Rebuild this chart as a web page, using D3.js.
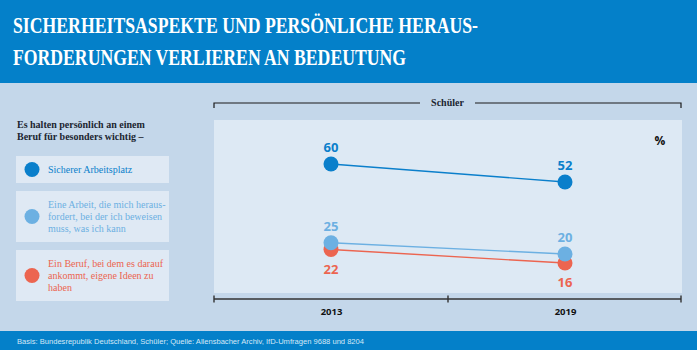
<!DOCTYPE html>
<html>
<head>
<meta charset="utf-8">
<script src="https://cdn.jsdelivr.net/npm/d3@7"></script>
<style>
  body { margin: 0; background: #c4d7ea; }
  svg { display: block; }
</style>
</head>
<body>
<div id="chart"></div>
<script>
const years = ["2013", "2019"];
const seriesNames = ["Sicherer Arbeitsplatz", "Eine Arbeit, die mich heraus-|fordert, bei der ich beweisen|muss, was ich kann", "Ein Beruf, bei dem es darauf|ankommt, eigene Ideen zu|haben"];
const arbeitsplatz = [60, 52];
const herausforderung = [25, 20];
const eigeneIdeen = [22, 16];
const titleLines = ["SICHERHEITSASPEKTE UND PERSÖNLICHE HERAUS-", "FORDERUNGEN VERLIEREN AN BEDEUTUNG"];
const legendHead = ["Es halten persönlich an einem", "Beruf für besonders wichtig –"];
const source = "Basis: Bundesrepublik Deutschland, Schüler; Quelle: Allensbacher Archiv, IfD-Umfragen 9688 und 8204";

const colors = ["#0a7fcb", "#6cb0e2", "#ec6550"];
const series = [
  { name: seriesNames[0], values: arbeitsplatz, color: colors[0], labelPos: ["above", "above"] },
  { name: seriesNames[1], values: herausforderung, color: colors[1], labelPos: ["above", "above"] },
  { name: seriesNames[2], values: eigeneIdeen, color: colors[2], labelPos: ["below", "below"] }
];

const W = 697, H = 350;
const svg = d3.select("#chart").append("svg").attr("width", W).attr("height", H);

// background + bands
svg.append("rect").attr("width", W).attr("height", H).attr("fill", "#c4d7ea");
svg.append("rect").attr("width", W).attr("height", 83).attr("fill", "#0480c9");
svg.append("rect").attr("y", 331).attr("width", W).attr("height", 19).attr("fill", "#0480c9");

// title, serif squeezed to the reference width
svg.selectAll(".title").data(titleLines).enter().append("text")
  .attr("x", 13).attr("y", (d, i) => 33 + i * 32)
  .attr("fill", "#fff").attr("font-family", "'Liberation Serif', serif").attr("font-weight", "bold")
  .attr("font-size", 23)
  .attr("textLength", (d, i) => i === 0 ? 465 : 393).attr("lengthAdjust", "spacingAndGlyphs")
  .text(d => d);

svg.append("text").attr("x", 17).attr("y", 343.5)
  .attr("fill", "#d5e8f7").attr("font-family", "'Liberation Sans', sans-serif").attr("font-size", 7.6)
  .attr("textLength", 347).attr("lengthAdjust", "spacingAndGlyphs")
  .text(source);

// legend
const serif = "'Liberation Serif', 'DejaVu Serif', serif";
svg.selectAll(".lh").data(legendHead).enter().append("text")
  .attr("x", 17).attr("y", (d, i) => 128 + i * 12)
  .attr("font-family", serif).attr("font-weight", "bold").attr("font-size", 10)
  .attr("fill", "#1b2530").text(d => d);

const boxes = [{ y: 156, h: 27 }, { y: 191, h: 51 }, { y: 250, h: 51 }];
series.forEach((s, i) => {
  const b = boxes[i];
  const g = svg.append("g");
  g.append("rect").attr("x", 16).attr("y", b.y).attr("width", 153).attr("height", b.h).attr("fill", "#dfe9f4");
  const cy = b.y + b.h / 2;
  g.append("circle").attr("cx", 32).attr("cy", cy).attr("r", 7.5).attr("fill", s.color);
  const lines = s.name.split("|");
  g.selectAll("text").data(lines).enter().append("text")
    .attr("x", 48).attr("y", (d, j) => cy + 3.5 + (j - (lines.length - 1) / 2) * 12)
    .attr("font-family", serif).attr("font-size", 10).attr("fill", s.color)
    .text(d => d);
});

// chart panel
const pLeft = 214, pRight = 682, pTop = 120, pBottom = 299;
svg.append("rect").attr("x", pLeft).attr("y", pTop).attr("width", pRight - pLeft).attr("height", 293 - pTop).attr("fill", "#dde9f4");

const x = d3.scalePoint().domain(years).range([pLeft, pRight]).padding(0.5);
const y = d3.scaleLinear().domain([0, 80]).range([pBottom, pBottom - 80 * 2.25]);

// top bracket
const bracket = svg.append("g").attr("stroke", "#1a1a1a").attr("stroke-width", 1.2).attr("fill", "none");
bracket.append("path").attr("d", `M${pLeft},108V103H420M475,103H${pRight - 1}V108`);
svg.append("text").attr("x", 447.5).attr("y", 106).attr("text-anchor", "middle")
  .attr("font-family", serif).attr("font-weight", "bold").attr("font-size", 10).attr("fill", "#1b2530")
  .text("Schüler");

// bottom axis
const axis = svg.append("g").attr("transform", `translate(0,${pBottom})`)
  .call(d3.axisBottom(x).tickSize(0).tickPadding(9));
axis.select(".domain").attr("d", `M${pLeft},0H${pRight - 1}`).attr("stroke", "#333").attr("stroke-width", 1.6);
axis.selectAll("text").attr("font-family", "'Open Sans', sans-serif").attr("font-weight", "bold")
  .attr("font-size", 9.5).attr("fill", "#111");
[pLeft, (pLeft + pRight) / 2, pRight - 1].forEach(t => {
  axis.append("line").attr("x1", t).attr("x2", t).attr("y1", -3.5).attr("y2", 3.5)
    .attr("stroke", "#333").attr("stroke-width", 1.4);
});

svg.append("text").attr("x", 660).attr("y", 145).attr("text-anchor", "middle")
  .attr("font-family", "'Open Sans', sans-serif").attr("font-weight", "bold").attr("font-size", 12)
  .attr("fill", "#111").text("%");

// lines + points, draw bottom series first
const line = d3.line().x((d, i) => x(years[i])).y(d => y(d));
const order = [2, 1, 0];
order.forEach(k => {
  const s = series[k];
  svg.append("path").datum(s.values).attr("d", line).attr("fill", "none")
    .attr("stroke", s.color).attr("stroke-width", 1.4);
});
order.forEach(k => {
  const s = series[k];
  svg.selectAll(null).data(s.values).enter().append("circle")
    .attr("cx", (d, i) => x(years[i])).attr("cy", d => y(d)).attr("r", 7.5).attr("fill", s.color);
  svg.selectAll(null).data(s.values).enter().append("text")
    .attr("x", (d, i) => x(years[i]))
    .attr("y", (d, i) => y(d) + (s.labelPos[i] === "above" ? -12 : 24))
    .attr("text-anchor", "middle")
    .attr("font-family", "'Open Sans', sans-serif").attr("font-weight", "bold").attr("font-size", 13)
    .attr("fill", s.color).text(d => d);
});
</script>
</body>
</html>
